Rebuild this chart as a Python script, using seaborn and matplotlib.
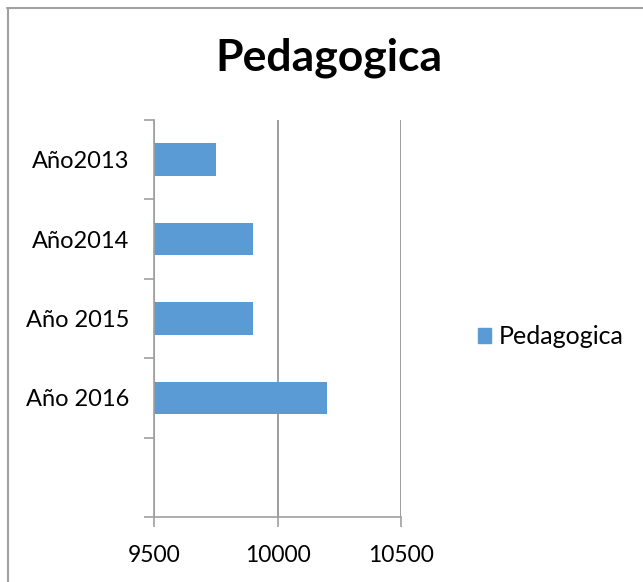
import seaborn as sns
import matplotlib.pyplot as plt
import pandas as pd
from matplotlib.patches import Patch
from matplotlib.lines import Line2D

# data
years = ['Año2013', 'Año2014', 'Año 2015', 'Año 2016']
pedagogica = [9750, 9900, 9900, 10200]
x_ticks = [9500, 10000, 10500]

df = pd.DataFrame({'year': years, 'value': pedagogica})

sns.set_style('white')
plt.rcParams['font.family'] = ['Lato', 'DejaVu Sans']
plt.rcParams['text.color'] = 'black'
plt.rcParams['xtick.color'] = 'black'
plt.rcParams['ytick.color'] = 'black'

fig = plt.figure(figsize=(6.43, 5.82), dpi=100)
ax = fig.add_axes([154 / 643, 1 - 517 / 582, 247 / 643, 397 / 582])

blue = '#5B9BD5'
grey = '#A0A0A0'

sns.barplot(data=df, x='value', y='year', orient='h', color=blue,
            width=0.41, saturation=1, linewidth=0, ax=ax)

# bars start at the axis minimum, not at zero
for patch, v in zip(ax.patches, pedagogica):
    patch.set_x(x_ticks[0])
    patch.set_width(v - x_ticks[0])

ax.set_xlim(x_ticks[0], x_ticks[-1])
ax.set_ylim(4.5, -0.5)
ax.set_xticks(x_ticks)
ax.set_xticklabels([str(t) for t in x_ticks], fontsize=16.5)
ax.set_yticks(range(len(years)))
ax.set_yticklabels(years, fontsize=17)
ax.set_yticks([i - 0.5 for i in range(6)], minor=True)
ax.tick_params(axis='y', which='major', length=0, pad=18)
ax.tick_params(axis='y', which='minor', length=7, width=1.2, color=grey, direction='out', left=True)
ax.tick_params(axis='x', length=7, width=1.2, color=grey, labelcolor='black', direction='out', bottom=True, pad=13)
ax.set_xlabel('')
ax.set_ylabel('')

ax.grid(axis='x', color='#8C8C8C', linewidth=1.2)
ax.set_axisbelow(True)
for side in ['top', 'right']:
    ax.spines[side].set_visible(False)
for side in ['left', 'bottom']:
    ax.spines[side].set_color(grey)
    ax.spines[side].set_linewidth(1.2)

fig.text(329 / 643, 1 - 58 / 582, 'Pedagogica', fontsize=32, fontweight='bold',
         ha='center', va='center', color='black')

fig.legend(handles=[Patch(color=blue, label='Pedagogica')], loc='center left',
           bbox_to_anchor=(455 / 643, 1 - 337 / 582), frameon=False, fontsize=18,
           handlelength=0.55, handleheight=0.55, handletextpad=0.3, labelcolor='black')

# chart frame (top and left visible)
fig.add_artist(Line2D([7 / 643, 1], [1 - 8 / 582, 1 - 8 / 582], color=grey, linewidth=1.5))
fig.add_artist(Line2D([8 / 643, 8 / 643], [0, 1 - 8 / 582], color=grey, linewidth=1.5))

fig.savefig('out.png', dpi=100)
